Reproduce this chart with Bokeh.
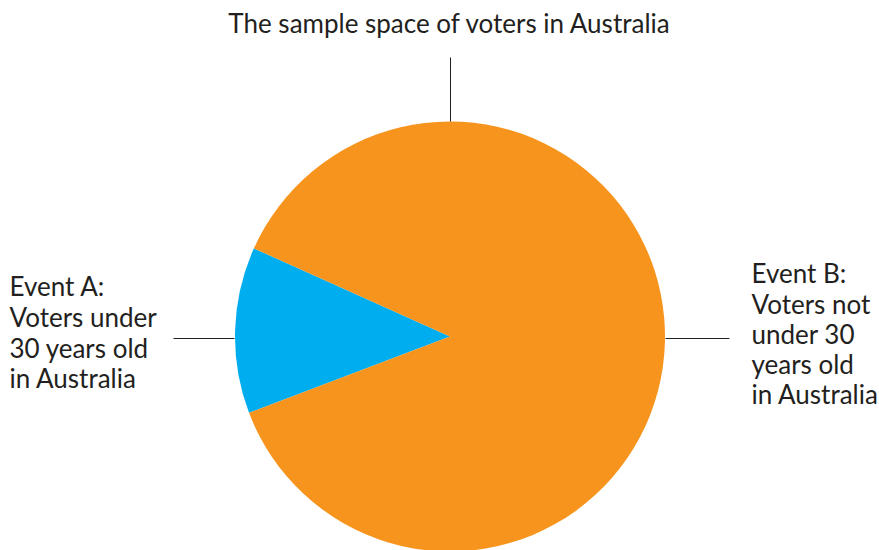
import numpy as np
from bokeh.plotting import figure
from bokeh.models import Range1d
from bokeh.core.properties import value
from bokeh.embed import file_html
from bokeh.resources import INLINE

# ---- data ----
title_text = "The sample space of voters in Australia"
categories = ["Event A", "Event B"]
shares = [12.5, 87.5]  # percent of sample space
colors = ["#00AEEF", "#F7941D"]
label_a = ["Event A:", "Voters under", "30 years old", "in Australia"]
label_b = ["Event B:", "Voters not", "under 30", "years old", "in Australia"]

# ---- layout (pixel space, y measured from top) ----
W, H = 879, 550
cx, cy, r = 449.5, 336.0, 215.0
start_deg = 155.8
FONT = "Lato"
TXT = "#231f20"
FS = "26px"
DY = -10

def Y(ypx):
    return H - ypx

p = figure(width=W, height=H, x_range=Range1d(0, W), y_range=Range1d(0, H),
           x_axis_type=None, y_axis_type=None, toolbar_location=None,
           output_backend="svg", min_border=0)
p.outline_line_color = None
p.grid.visible = False
p.background_fill_color = "white"
p.border_fill_color = "white"

fr = np.array(shares) / sum(shares)
ends = np.cumsum(fr) * 2 * np.pi + np.radians(start_deg)
starts = ends - fr * 2 * np.pi
p.wedge(x=cx, y=Y(cy), radius=r, start_angle=starts, end_angle=ends,
        fill_color=colors, line_color=None)

# leader lines
p.segment(x0=[450, 173, 665], y0=[Y(57), Y(338), Y(338)],
          x1=[450, 234, 729], y1=[Y(121), Y(338), Y(338)],
          line_color=TXT, line_width=1)

p.text(x=[449.5], y=[Y(32 + DY)], text=[title_text], text_align="center",
       text_baseline="alphabetic", text_font=value(FONT), text_font_size=FS,
       text_color=TXT)

ya = [295, 326, 357, 387]
p.text(x=[9] * len(label_a), y=[Y(v + DY) for v in ya], text=label_a,
       text_baseline="alphabetic", text_font=value(FONT), text_font_size=FS,
       text_color=TXT)
yb = [282, 313, 343, 373, 403]
p.text(x=[751] * len(label_b), y=[Y(v + DY) for v in yb], text=label_b,
       text_baseline="alphabetic", text_font=value(FONT), text_font_size=FS,
       text_color=TXT)

open("out.html", "w").write(file_html(p, INLINE))
